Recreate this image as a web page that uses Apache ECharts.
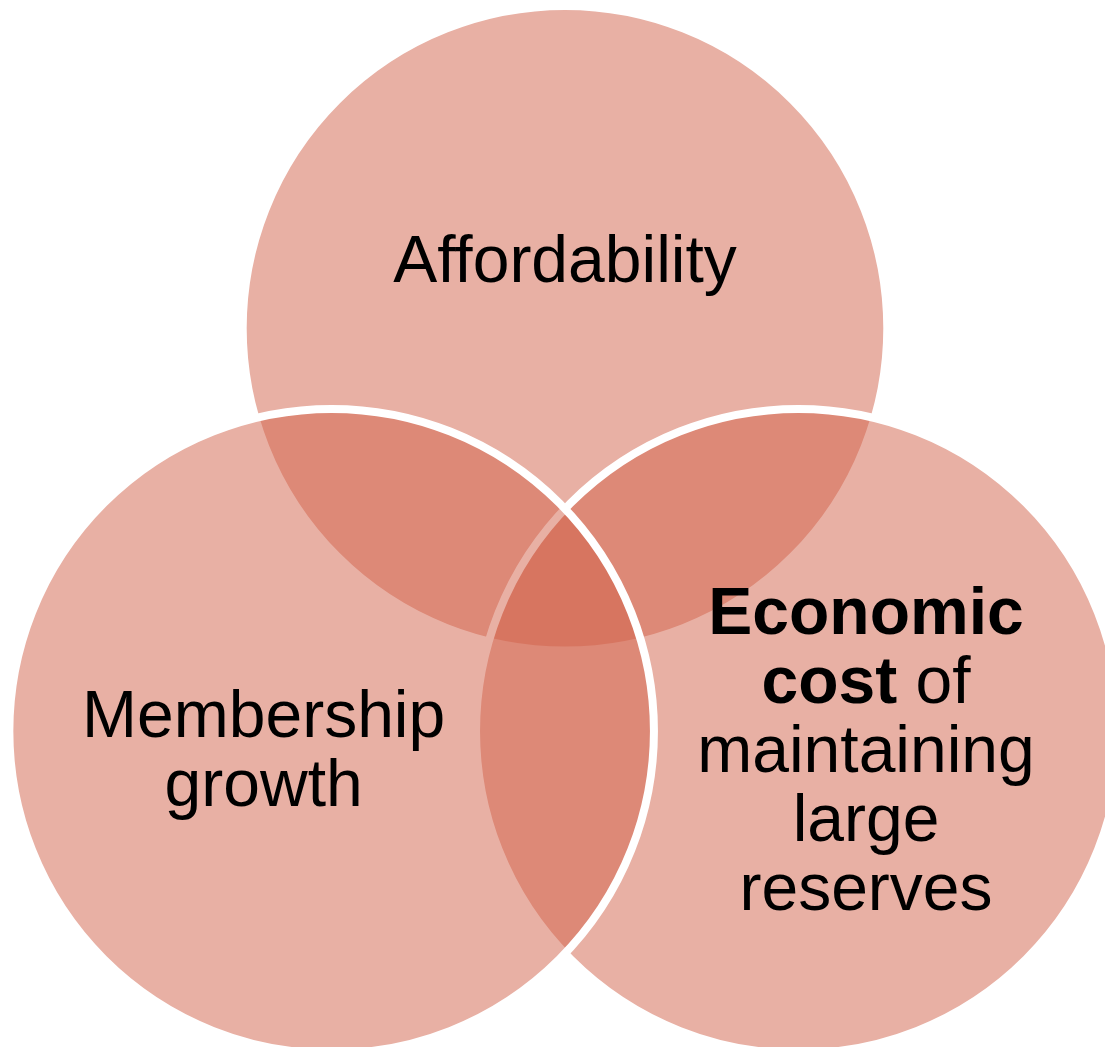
<!DOCTYPE html>
<html>
<head>
<meta charset="utf-8">
<title>Venn diagram</title>
<script src="https://cdn.jsdelivr.net/npm/echarts@6/dist/echarts.min.js"></script>
<style>
  html, body { margin: 0; padding: 0; background: #ffffff; }
  #chart { width: 1105px; height: 1047px; }
</style>
</head>
<body>
<div id="chart"></div>
<script>
// Three overlapping sets, in units of one circle radius.
// Drawing order: top, right, left (later circles sit over earlier ones).
const circleNames = ['Affordability', 'Economic cost', 'Membership growth'];
const circleX = [0, 0.724, -0.724];
const circleY = [0, -1.25, -1.25];
const circleR = [1, 1, 1];

// Set labels: anchor point (in the same units) and text lines.
const labelX = [0, 0.934, -0.935];
const labelY = [0.199, -1.32, -1.32];
const labelText = [
  'Affordability',
  '{b|Economic}\n{b|cost} of\nmaintaining\nlarge\nreserves',
  'Membership\ngrowth'
];

const chart = echarts.init(document.getElementById('chart'), null, { renderer: 'canvas' });

const circleData = circleNames.map((n, i) => [circleX[i], circleY[i], circleR[i], n]);
const labelData = labelText.map((t, i) => [labelX[i], labelY[i], t]);

chart.setOption({
  backgroundColor: '#ffffff',
  animation: false,
  grid: { left: 0, right: 0, top: 0, bottom: 0 },
  xAxis: { type: 'value', min: -1.753, max: 1.6755, show: false },
  yAxis: { type: 'value', min: -2.2299, max: 1.0186, show: false },
  series: [
    {
      type: 'custom',
      silent: true,
      data: circleData,
      renderItem: function (params, api) {
        const c = api.coord([api.value(0), api.value(1)]);
        const r = api.size([api.value(2), api.value(2)])[0];
        return {
          type: 'circle',
          shape: { cx: c[0], cy: c[1], r: r },
          style: {
            fill: 'rgba(209, 97, 73, 0.5)',
            stroke: '#ffffff',
            lineWidth: 8
          }
        };
      }
    },
    {
      type: 'custom',
      silent: true,
      data: labelData,
      renderItem: function (params, api) {
        const c = api.coord([api.value(0), api.value(1)]);
        return {
          type: 'text',
          x: c[0],
          y: c[1],
          style: {
            text: labelText[params.dataIndex],
            fill: '#000000',
            fontFamily: '"Liberation Sans", Arial, sans-serif',
            fontSize: 66,
            lineHeight: 69,
            align: 'center',
            verticalAlign: 'middle',
            rich: {
              b: {
                fontFamily: '"Liberation Sans", Arial, sans-serif',
                fontSize: 66,
                fontWeight: 'bold',
                lineHeight: 69,
                fill: '#000000'
              }
            }
          }
        };
      }
    }
  ]
});
</script>
</body>
</html>
